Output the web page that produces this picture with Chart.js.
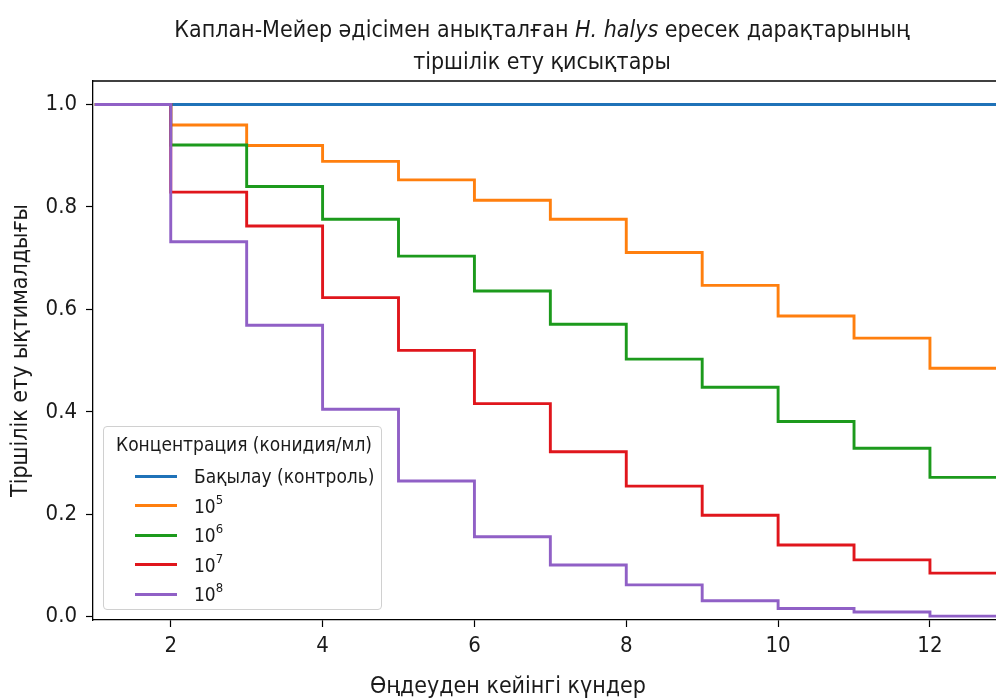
<!DOCTYPE html>
<html lang="kk">
<head>
<meta charset="UTF-8">
<title>Каплан-Мейер қисықтары</title>
<script src="https://cdn.jsdelivr.net/npm/chart.js"></script>
<style>
    body { margin: 0; background: #fff; font-family: 'DejaVu Sans Condensed', 'DejaVu Sans', sans-serif; }
    .wrap { position: relative; width: 996px; height: 698px; overflow: hidden; }
    .title {
        position: absolute; left: 342px; width: 400px; top: 13px;
        text-align: center; font-size: 23px; line-height: 32px; color: #1a1a1a; white-space: nowrap;
        display: flex; flex-direction: column; align-items: center;
    }
    .xlabel {
        position: absolute; left: 308px; width: 400px; top: 671px;
        text-align: center; font-size: 23px; line-height: 28px; color: #1a1a1a;
    }
    .legend {
        position: absolute; left: 103px; top: 426px; width: 277px; height: 182px;
        border: 1px solid #d0d0d0; border-radius: 4px; background: rgba(255,255,255,0.85);
        font-size: 19px; color: #1a1a1a;
    }
    .legend .ltitle { position: absolute; left: 12px; top: 6px; white-space: nowrap; }
    .legend .row { position: absolute; left: 31px; height: 30px; display: flex; align-items: center; white-space: nowrap; }
    .legend .sw { width: 42px; height: 3px; margin-right: 17px; }
    .legend sup { font-size: 13px; position: relative; top: -2px; }
</style>
</head>
<body>
<div class="wrap">
    <canvas id="km" width="996" height="698"></canvas>
    <div class="title">
        <div>Каплан-Мейер әдісімен анықталған <i>H. halys</i> ересек дарақтарының</div>
        <div>тіршілік ету қисықтары</div>
    </div>
    <div class="xlabel">Өңдеуден кейінгі күндер</div>
    <div class="legend" id="legend"></div>
</div>
<script>
// күндер (x) және тірі қалу ықтималдығы
const days = [1, 2, 3, 4, 5, 6, 7, 8, 9, 10, 11, 12, 13];
const control = [1, 1, 1, 1, 1, 1, 1, 1, 1, 1, 1, 1, 1];
const conc1e5 = [1, 0.96, 0.92, 0.889, 0.853, 0.813, 0.776, 0.711, 0.647, 0.587, 0.544, 0.485, 0.485];
const conc1e6 = [1, 0.921, 0.840, 0.776, 0.704, 0.636, 0.571, 0.503, 0.448, 0.381, 0.329, 0.272, 0.272];
const conc1e7 = [1, 0.829, 0.763, 0.623, 0.520, 0.416, 0.322, 0.255, 0.198, 0.140, 0.111, 0.085, 0.085];
const conc1e8 = [1, 0.732, 0.569, 0.405, 0.265, 0.156, 0.101, 0.062, 0.031, 0.016, 0.009, 0.001, 0.001];

const seriesNames = ['Бақылау (контроль)', '10', '10', '10', '10'];
const seriesExp = ['', '5', '6', '7', '8'];
const seriesColors = ['#1f72b8', '#ff7f0e', '#1c9a1c', '#e0161c', '#9060c6'];
const xTicks = [2, 4, 6, 8, 10, 12];
const yTicks = [0, 0.2, 0.4, 0.6, 0.8, 1.0];

const allSeries = [control, conc1e5, conc1e6, conc1e7, conc1e8];
const fontFam = "'DejaVu Sans Condensed', 'DejaVu Sans', sans-serif";

// legend (HTML, for superscripts)
const leg = document.getElementById('legend');
leg.innerHTML = '<div class="ltitle">Концентрация (конидия/мл)</div>' +
    seriesNames.map((n, i) =>
        `<div class="row" style="top:${34 + i * 29.5}px"><span class="sw" style="background:${seriesColors[i]}"></span>` +
        `<span>${n}${seriesExp[i] ? '<sup>' + seriesExp[i] + '</sup>' : ''}</span></div>`
    ).join('');

const topSpine = {
    id: 'topSpine',
    afterDraw(chart) {
        const a = chart.chartArea, ctx = chart.ctx;
        ctx.save();
        ctx.strokeStyle = '#000';
        ctx.lineWidth = 1.3;
        ctx.beginPath();
        ctx.moveTo(a.left, a.top);
        ctx.lineTo(a.right, a.top);
        ctx.stroke();
        ctx.restore();
    }
};

new Chart(document.getElementById('km').getContext('2d'), {
    type: 'line',
    data: {
        datasets: allSeries.map((s, i) => ({
            label: seriesNames[i] + seriesExp[i],
            data: days.map((d, j) => ({ x: d, y: s[j] })),
            borderColor: seriesColors[i],
            borderWidth: 2.9,
            stepped: true,
            pointRadius: 0,
            fill: false,
            order: allSeries.length - i
        }))
    },
    options: {
        responsive: false,
        animation: false,
        layout: { padding: { top: 81, right: 0, left: 0, bottom: 0 } },
        plugins: {
            legend: { display: false },
            title: { display: false },
            tooltip: { enabled: false }
        },
        scales: {
            x: {
                type: 'linear',
                min: 0.976,
                max: 12.87,
                afterBuildTicks: s => { s.ticks = xTicks.map(v => ({ value: v })); },
                afterFit: s => { s.height = 78; },
                ticks: { color: '#1a1a1a', font: { family: fontFam, size: 22 }, padding: 6, maxRotation: 0 },
                grid: { drawOnChartArea: false, tickLength: 7, tickColor: '#000', tickWidth: 1.2 },
                border: { color: '#000', width: 1.3 }
            },
            y: {
                min: -0.0065,
                max: 1.046,
                afterBuildTicks: s => { s.ticks = yTicks.map(v => ({ value: v })); },
                afterFit: s => { s.width = 93; },
                ticks: { color: '#1a1a1a', font: { family: fontFam, size: 22 }, padding: 9, callback: v => v.toFixed(1) },
                grid: { drawOnChartArea: false, tickLength: 7, tickColor: '#000', tickWidth: 1.2 },
                border: { color: '#000', width: 1.3 },
                title: {
                    display: true,
                    text: 'Тіршілік ету ықтималдығы',
                    color: '#1a1a1a',
                    font: { family: fontFam, size: 23 },
                    padding: { top: 7, bottom: 0 }
                }
            }
        }
    },
    plugins: [topSpine]
});
</script>
</body>
</html>
